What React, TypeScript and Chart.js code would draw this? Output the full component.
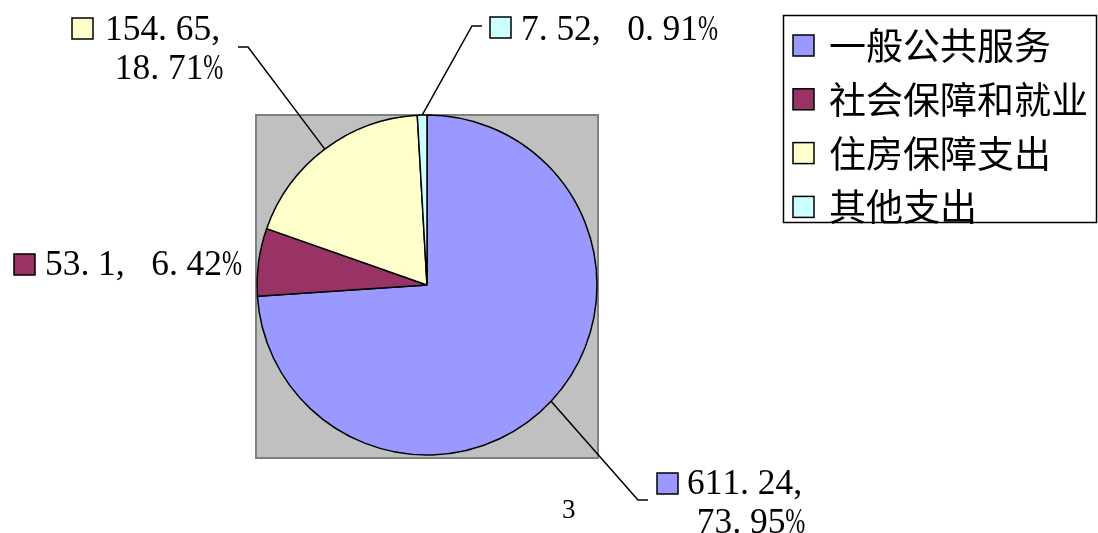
import React, { useEffect, useRef } from "react";
import { Chart, registerables } from "chart.js";

Chart.register(...registerables);

const categories = ["一般公共服务", "社会保障和就业", "住房保障支出", "其他支出"];
const values = [611.24, 53.1, 154.65, 7.52];
const colors = ["#9999FF", "#993366", "#FFFFCC", "#CCFFFF"];
const footnote = "3";

// label layout: square position, text start, baselines, leader line elbow/end
const labelLayout = [
  { sq: [657, 473], tx: 687, base: [494, 533], wrap: true, elbow: [638, 500], end: [648, 500] },
  { sq: [14, 254], tx: 45, base: [275], wrap: false, elbow: null, end: null },
  { sq: [72, 18], tx: 105, base: [40, 79], wrap: true, elbow: [248, 47], end: [238, 47] },
  { sq: [490, 17], tx: 521, base: [40], wrap: false, elbow: [472, 26], end: [482, 26] },
];

const CELL = 17.7;
const LABEL_FONT = "36px 'Liberation Serif', 'DejaVu Serif', serif";
const CJK_FONT = "37px 'Noto Sans CJK SC', sans-serif";

function drawCells(ctx: CanvasRenderingContext2D, text: string, x: number, y: number) {
  let cx = x;
  for (const ch of text) {
    const w = ch.charCodeAt(0) > 255 ? CELL * 2 : CELL;
    const maxW = ch === "%" ? 20 : w;
    if (ch !== " ") ctx.fillText(ch, cx, y, maxW);
    cx += w;
  }
}

const overlay = {
  id: "overlay",
  beforeDatasetsDraw(chart: any) {
    const ctx: CanvasRenderingContext2D = chart.ctx;
    const arc = chart.getDatasetMeta(0).data[0];
    const r = arc.outerRadius;
    ctx.save();
    ctx.fillStyle = "#C0C0C0";
    ctx.strokeStyle = "#808080";
    ctx.lineWidth = 2;
    const x0 = Math.round(arc.x - r - 1);
    const y0 = Math.round(arc.y - r);
    ctx.fillRect(x0, y0, 2 * r + 2, 2 * r + 3);
    ctx.strokeRect(x0, y0, 2 * r + 2, 2 * r + 3);
    ctx.restore();
  },
  afterDatasetsDraw(chart: any) {
    const ctx: CanvasRenderingContext2D = chart.ctx;
    const meta = chart.getDatasetMeta(0);
    const data: number[] = chart.data.datasets[0].data;
    const total = data.reduce((a, b) => a + b, 0);
    ctx.save();
    // leader lines
    ctx.strokeStyle = "#000";
    ctx.lineWidth = 1.5;
    meta.data.forEach((el: any, i: number) => {
      const L = labelLayout[i];
      if (!L.elbow) return;
      const mid = (el.startAngle + el.endAngle) / 2;
      const px = el.x + Math.cos(mid) * el.outerRadius;
      const py = el.y + Math.sin(mid) * el.outerRadius;
      ctx.beginPath();
      ctx.moveTo(px, py);
      ctx.lineTo(L.elbow[0], L.elbow[1]);
      ctx.lineTo(L.end![0], L.end![1]);
      ctx.stroke();
    });
    // labels
    ctx.font = LABEL_FONT;
    ctx.textBaseline = "alphabetic";
    ctx.textAlign = "left";
    data.forEach((v, i) => {
      const L = labelLayout[i];
      const pct = ((v / total) * 100).toFixed(2) + "%";
      ctx.fillStyle = colors[i];
      ctx.fillRect(L.sq[0], L.sq[1], 21, 21);
      ctx.strokeStyle = "#000";
      ctx.lineWidth = 1.5;
      ctx.strokeRect(L.sq[0], L.sq[1], 21, 21);
      ctx.fillStyle = "#000";
      if (L.wrap) {
        const l1 = `${v},`;
        const l2 = pct;
        drawCells(ctx, l1, L.tx, L.base[0]);
        drawCells(ctx, l2, L.tx + ((l1.length - l2.length) * CELL) / 2 + 1, L.base[1]);
      } else {
        drawCells(ctx, `${v}, ${pct}`, L.tx, L.base[0]);
      }
    });
    // legend
    ctx.strokeStyle = "#000";
    ctx.lineWidth = 1.5;
    ctx.strokeRect(783.5, 15.5, 313, 207);
    ctx.font = CJK_FONT;
    ctx.textBaseline = "middle";
    chart.data.labels.forEach((lab: string, i: number) => {
      const cy = 45 + i * 53.8;
      ctx.fillStyle = colors[i];
      ctx.fillRect(793, cy - 10, 21, 21);
      ctx.strokeStyle = "#000";
      ctx.strokeRect(793, cy - 10, 21, 21);
      ctx.fillStyle = "#000";
      ctx.fillText(lab, 829, cy + 1);
    });
    // footnote
    ctx.font = "27px 'Liberation Serif', serif";
    ctx.textBaseline = "alphabetic";
    ctx.fillText(footnote, 562, 518);
    ctx.restore();
  },
};

export default function App() {
  const ref = useRef<HTMLCanvasElement>(null);
  useEffect(() => {
    if (!ref.current) return;
    const chart = new Chart(ref.current, {
      type: "pie",
      data: {
        labels: categories,
        datasets: [
          {
            data: values,
            backgroundColor: colors,
            borderColor: "#000",
            borderWidth: 1.5,
            radius: 170,
          } as any,
        ],
      },
      options: {
        responsive: false,
        animation: false,
        layout: { padding: { left: 257, top: 115, right: 501, bottom: 78 } },
        plugins: { legend: { display: false }, tooltip: { enabled: false } },
      },
      plugins: [overlay],
    });
    return () => chart.destroy();
  }, []);
  return (
    <div style={{ position: "fixed", left: 0, top: 0, width: 1098, height: 533, background: "#fff" }}>
      <canvas ref={ref} width={1098} height={533} style={{ width: 1098, height: 533 }} />
    </div>
  );
}
